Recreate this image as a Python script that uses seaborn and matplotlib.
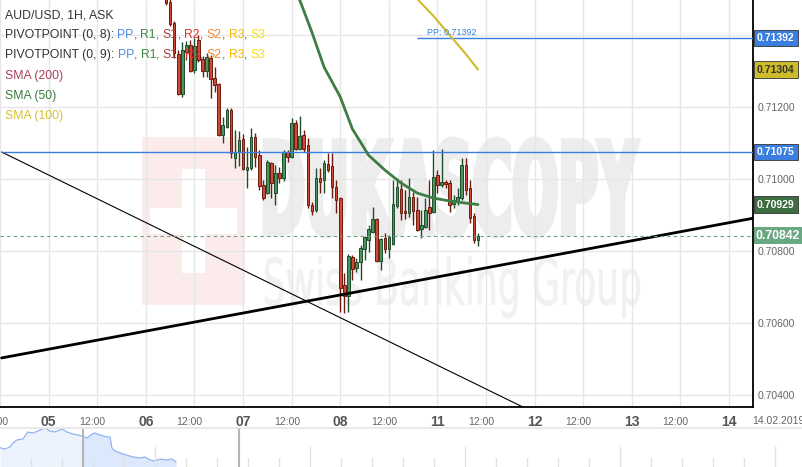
import numpy as np
import matplotlib
matplotlib.use('Agg')
import matplotlib.pyplot as plt
import seaborn as sns
from matplotlib.font_manager import FontProperties
from matplotlib.patches import PathPatch, Rectangle
from matplotlib.textpath import TextPath
from matplotlib.transforms import Affine2D

# hourly AUD/USD candles, hours counted from 05.02 00:00 (weekend left out)
first_hour = 29
opens = [0.71511, 0.71491, 0.71433, 0.71347, 0.71236, 0.71353, 0.71372, 0.71303, 0.71386, 0.71333,
         0.71300, 0.71336, 0.71280, 0.71264, 0.71122, 0.71144, 0.71191, 0.71058, 0.71075, 0.71111,
         0.71025, 0.71030, 0.71116, 0.71066, 0.70983, 0.70961, 0.71044, 0.70961, 0.71016, 0.71003,
         0.71075, 0.71061, 0.71155, 0.71083, 0.71122, 0.71094, 0.70928, 0.70914, 0.71003, 0.70997,
         0.71041, 0.71036, 0.70978, 0.70947, 0.70705, 0.70675, 0.70783, 0.70753, 0.70769, 0.70805,
         0.70830, 0.70853, 0.70889, 0.70772, 0.70836, 0.70805, 0.70819, 0.70925, 0.70972, 0.70911,
         0.70905, 0.70950, 0.70914, 0.70861, 0.70866, 0.70922, 0.70908, 0.71011, 0.70983, 0.70991,
         0.70989, 0.70930, 0.70936, 0.70947, 0.71039, 0.70975, 0.70897, 0.70830]
highs = [0.71530, 0.71505, 0.71439, 0.71358, 0.71380, 0.71383, 0.71386, 0.71391, 0.71400, 0.71341,
         0.71350, 0.71344, 0.71311, 0.71266, 0.71172, 0.71197, 0.71197, 0.71136, 0.71133, 0.71125,
         0.71089, 0.71141, 0.71128, 0.71080, 0.70997, 0.71053, 0.71047, 0.71039, 0.71033, 0.71080,
         0.71080, 0.71169, 0.71164, 0.71175, 0.71136, 0.71114, 0.70936, 0.71030, 0.71030, 0.71053,
         0.71072, 0.71072, 0.70997, 0.70950, 0.70739, 0.70791, 0.70789, 0.70780, 0.70816, 0.70841,
         0.70872, 0.70922, 0.70891, 0.70836, 0.70850, 0.70844, 0.70997, 0.71003, 0.70997, 0.70969,
         0.71003, 0.70964, 0.70950, 0.70914, 0.70947, 0.70997, 0.71080, 0.71025, 0.71083, 0.70997,
         0.70997, 0.70955, 0.70975, 0.71058, 0.71058, 0.70997, 0.70905, 0.70850]
lows = [0.71483, 0.71425, 0.71336, 0.71233, 0.71228, 0.71330, 0.71297, 0.71294, 0.71325, 0.71283,
        0.71283, 0.71225, 0.71241, 0.71119, 0.71100, 0.71141, 0.71058, 0.71030, 0.71036, 0.71025,
        0.70975, 0.71025, 0.71033, 0.70969, 0.70941, 0.70958, 0.70947, 0.70928, 0.70989, 0.70994,
        0.71047, 0.71058, 0.71080, 0.71080, 0.71075, 0.70919, 0.70900, 0.70908, 0.70961, 0.70961,
        0.71019, 0.70947, 0.70905, 0.70630, 0.70628, 0.70630, 0.70719, 0.70741, 0.70719, 0.70775,
        0.70797, 0.70850, 0.70769, 0.70747, 0.70794, 0.70780, 0.70816, 0.70919, 0.70886, 0.70889,
        0.70894, 0.70872, 0.70855, 0.70836, 0.70864, 0.70858, 0.70905, 0.70961, 0.70978, 0.70975,
        0.70908, 0.70919, 0.70928, 0.70941, 0.70955, 0.70878, 0.70822, 0.70814]
closes = [0.71489, 0.71430, 0.71350, 0.71236, 0.71358, 0.71372, 0.71300, 0.71369, 0.71330, 0.71300,
          0.71339, 0.71278, 0.71261, 0.71122, 0.71150, 0.71191, 0.71072, 0.71075, 0.71108, 0.71028,
          0.71033, 0.71116, 0.71061, 0.70980, 0.70947, 0.71047, 0.70989, 0.71016, 0.71003, 0.71075,
          0.71061, 0.71155, 0.71083, 0.71119, 0.71083, 0.70928, 0.70911, 0.71003, 0.70991, 0.71044,
          0.71025, 0.70978, 0.70941, 0.70697, 0.70675, 0.70786, 0.70750, 0.70769, 0.70808, 0.70839,
          0.70861, 0.70889, 0.70772, 0.70833, 0.70805, 0.70839, 0.70930, 0.70978, 0.70905, 0.70905,
          0.70950, 0.70911, 0.70858, 0.70872, 0.70914, 0.70905, 0.71005, 0.70983, 0.70991, 0.70986,
          0.70928, 0.70941, 0.70950, 0.71039, 0.70969, 0.70891, 0.70830, 0.70842]

sma50_hours = [59, 62, 65, 68, 72, 75, 79, 83, 87, 91, 95, 99, 103, 106]
sma50_vals = [0.71530, 0.71497, 0.71408, 0.71311, 0.71228, 0.71139, 0.71066, 0.71025,
              0.70989, 0.70961, 0.70947, 0.70939, 0.70933, 0.70929]
sma100_hours = [90, 95, 99, 103, 106]
sma100_vals = [0.71512, 0.71453, 0.71400, 0.71347, 0.71304]

# drawn trend lines (end points)
trend_up_hours = [-11.6, 173.9]
trend_up_vals = [0.70503, 0.70891]
trend_down_hours = [-11.6, 117.2]
trend_down_vals = [0.71075, 0.70366]

pivot_pp = 0.71392
pivot_start = 91
level_line = 0.71075
last_price = 0.70842

day_labels = ['05', '06', '07', '08', '11', '12', '13', '14']
day_hours = [0, 24, 48, 72, 96, 120, 144, 168]
half_hours = [-12, 12, 36, 60, 84, 108, 132, 156]
y_ticks = [0.704, 0.706, 0.708, 0.710, 0.712, 0.714]

# price tags on the right axis
tag_vals = [0.71392, 0.71304, 0.71075, 0.70929]
tag_faces = ['#3a7fe0', '#cdbb2a', '#3a7fe0', '#3d6e3f']
tag_text = ['white', '#333333', 'white', 'white']

# navigator strip under the chart (position in days, price)
nav_days = [0, 0.16, 0.32, 0.42, 0.55, 0.74, 0.90, 1.06, 1.23, 1.45, 1.61, 1.77, 2.0, 2.16,
            2.35, 2.65, 2.81, 2.97, 3.06, 3.23, 3.45, 3.55, 3.61, 3.71, 3.97, 4.29, 4.52,
            4.68, 4.84, 5.0, 5.16, 5.39, 5.55, 5.68]
nav_vals = [0.70477, 0.70472, 0.70480, 0.70496, 0.70508, 0.70512, 0.70540, 0.70536, 0.70544,
            0.70556, 0.70544, 0.70540, 0.70552, 0.70540, 0.70532, 0.70524, 0.70516, 0.70532,
            0.70536, 0.70528, 0.70520, 0.70520, 0.70476, 0.70464, 0.70452, 0.70440, 0.70436,
            0.70440, 0.70428, 0.70424, 0.70432, 0.70428, 0.70432, 0.70420]

W, H = 803, 467
AX_W, AX_H = 753, 407

sns.set_theme(style='white')
plt.rcParams['font.family'] = ['Liberation Sans', 'DejaVu Sans']

fig = plt.figure(figsize=(W / 100, H / 100), dpi=100)
ax = fig.add_axes([0, (H - AX_H) / H, AX_W / W, AX_H / H])
ax.set_xlim(-11.58, 173.9)
ax.set_ylim(0.703667, 0.714972)


def stamp(s, box, color, weight, stroke=0.0):
    # stretch a text outline into a pixel box (left, top, right, bottom) of the axes
    tp = TextPath((0, 0), s, size=50, prop=FontProperties(family='DejaVu Sans', weight=weight))
    ext = tp.get_extents()
    x0, y0, x1, y1 = box
    tr = (Affine2D().translate(-ext.x0, -ext.y0)
          .scale((x1 - x0) / ext.width / AX_W, (y1 - y0) / ext.height / AX_H)
          .translate(x0 / AX_W, 1 - y1 / AX_H))
    ax.add_patch(PathPatch(tr.transform_path(tp), transform=ax.transAxes,
                           fc=color, ec=color, lw=stroke, zorder=0.2))


def px_rect(x0, y0, x1, y1, color):
    ax.add_patch(Rectangle((x0 / AX_W, 1 - y1 / AX_H), (x1 - x0) / AX_W, (y1 - y0) / AX_H,
                           transform=ax.transAxes, fc=color, ec='none', zorder=0.2))


# watermark
px_rect(142, 137, 245, 305, '#fcebeb')
px_rect(182, 169, 205, 273, 'white')
px_rect(150, 208, 237, 234, 'white')
stamp('DUKASCOPY', (265, 139, 638, 236), '#ededed', 'bold', stroke=3.5)
stamp('Swiss Banking Group', (265, 256, 640, 318), '#f1f1f1', 'normal', stroke=0.5)

# grid
ax.set_xticks(np.arange(-12, 174, 12))
ax.set_yticks(y_ticks)
ax.set_axisbelow(True)
ax.grid(True, color='#e6e6e6', lw=1)

# candles
hours = np.arange(first_hour, first_hour + len(opens))
o = np.array(opens)
c = np.array(closes)
up = c >= o
body_col = np.where(up, '#4c9160', '#cf4a35')
edge_col = np.where(up, '#1e4d2b', '#6e1b10')
ax.vlines(hours, lows, highs, colors=edge_col, lw=1, zorder=3)
ax.bar(hours, c - o, bottom=o, width=0.64, color=body_col, edgecolor=edge_col, lw=0.7, zorder=3.1)

# moving averages
sns.lineplot(x=sma50_hours, y=sma50_vals, ax=ax, color='#3f7d45', lw=2, zorder=5)
sns.lineplot(x=sma100_hours, y=sma100_vals, ax=ax, color='#cdbb2a', lw=1.5, zorder=5)

# trend lines and levels
ax.plot(trend_up_hours, trend_up_vals, color='black', lw=2, zorder=4)
ax.plot(trend_down_hours, trend_down_vals, color='black', lw=0.8, zorder=4)
ax.hlines(level_line, -11.58, 173.9, color='#3a7fe0', lw=1, zorder=4)
ax.hlines(pivot_pp, pivot_start, 173.9, color='#3a7fe0', lw=1, zorder=4)
ax.text(pivot_start + 2.3, pivot_pp + 0.00003, f'PP: {pivot_pp:.5f}', fontsize=6.5,
        color='#3a7fe0', va='bottom', zorder=6)
ax.axhline(last_price, color='#6aa07a', lw=0.8, ls=(0, (3, 3)), zorder=4)

# axes look
for side in ['left', 'top']:
    ax.spines[side].set_visible(False)
for side in ['right', 'bottom']:
    ax.spines[side].set_color('black')
    ax.spines[side].set_linewidth(1.3)
ax.yaxis.tick_right()
ax.yaxis.set_major_formatter(matplotlib.ticker.FormatStrFormatter('%.5f'))
ax.tick_params(axis='y', length=0, pad=3.5, labelsize=7.5, labelcolor='#666666')
ax.tick_params(axis='x', length=0, labelbottom=False)
ax.set_xlabel('')
ax.set_ylabel('')

for v, fc, tc in zip(tag_vals, tag_faces, tag_text):
    ax.annotate(f'{v:.5f}', xy=(1, v), xycoords=ax.get_yaxis_transform(), xytext=(4, 0),
                textcoords='offset pixels', va='center', ha='left', fontsize=7.5,
                fontweight='bold', color=tc, zorder=20, annotation_clip=False,
                bbox=dict(boxstyle='square,pad=0.3', fc=fc, ec='#333333', lw=0.6))
ax.annotate(f'{last_price:.5f}', xy=(1, last_price), xycoords=ax.get_yaxis_transform(),
            xytext=(3, 0), textcoords='offset pixels', va='center', ha='left', fontsize=8.8,
            fontweight='bold', color='white', zorder=20, annotation_clip=False,
            bbox=dict(boxstyle='square,pad=0.2', fc='#6aa884', ec='none'))

# time labels
xt = ax.get_xaxis_transform()
for d, lab in zip(day_hours, day_labels):
    ax.text(d, -0.036, lab, transform=xt, ha='center', va='center', fontsize=10,
            fontweight='bold', color='#555555', clip_on=False)
for hh in half_hours:
    ax.text(hh - 1.2, -0.036, '12:00', transform=xt, ha='center', va='center', fontsize=7.5,
            color='#666666', clip_on=False)
fig.text(778 / W, 1 - 421 / H, '14.02.2019', ha='center', va='center', fontsize=7.5,
         color='#666666')

# legend text in the corner
renderer = fig.canvas.get_renderer()


def write_line(x, y, parts, size=8.8):
    for s, col in parts:
        t = fig.text(x / W, 1 - y / H, s, color=col, fontsize=size, va='center', ha='left', zorder=30)
        x += t.get_window_extent(renderer).width


pivot_parts = [('PP', '#4a8de8'), ('R1', '#3f8a3f'), ('S1', '#a33a3a'), ('R2', '#e8312f'),
               ('S2', '#f08a2a'), ('R3', '#f0b800'), ('S3', '#f2e000')]
write_line(5, 15, [('AUD/USD, 1H, ASK', '#333333')])
for row, period in zip([35, 55], [8, 9]):
    parts = [(f'PIVOTPOINT (0, {period}):\u00a0', '#333333')]
    for k, (s, col) in enumerate(pivot_parts):
        parts.append((s, col))
        if k < len(pivot_parts) - 1:
            parts.append((',\u00a0', '#555555'))
    write_line(5, row, parts)
write_line(5, 76, [('SMA (200)', '#a8405a')])
write_line(5, 96, [('SMA (50)', '#3d7a3d')])
write_line(5, 116, [('SMA (100)', '#d4c030')])

# navigator
nav = fig.add_axes([0, 0, 1, 39 / H])
nav.set_xlim(0, W / 31)
nav.set_ylim(0.7040, 0.70556)
nav.fill_between(nav_days, nav_vals, 0.7040, color='#dce8fb', lw=0)
sns.lineplot(x=nav_days, y=nav_vals, ax=nav, color='#8fb3ef', lw=0.9)
nav.axvspan(0, 2.68, color='white', alpha=0.5, lw=0)
for k in range(1, 26):
    nav.axvline(k, ymax=0.51 if k % 5 == 0 else 0.23, color='#e2e2e2', lw=1)
for hx in [2.68, 7.71]:
    nav.axvline(hx, color='#b5b5b5', lw=1.5)
nav.set_xticks([])
nav.set_yticks([])
nav.set_xlabel('')
nav.set_ylabel('')
for side in ['left', 'right', 'bottom']:
    nav.spines[side].set_visible(False)
nav.spines['top'].set_color('#e6e6e6')

fig.savefig('out.png', dpi=100)
